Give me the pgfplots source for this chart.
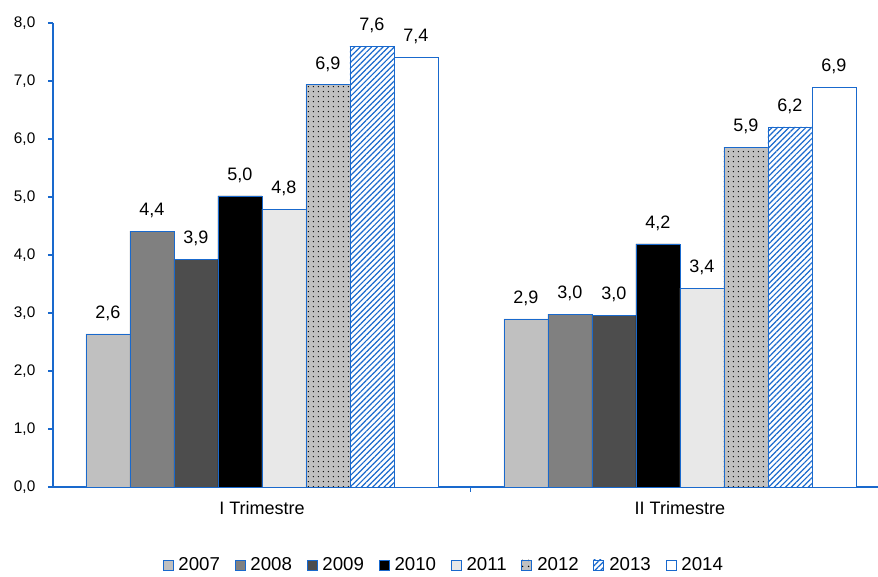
\documentclass[border=0pt]{standalone}
\usepackage{fontspec}
\setmainfont{Liberation Sans}
\usepackage{pgfplots}
\pgfplotsset{compat=1.18}
\usetikzlibrary{patterns,patterns.meta}
\definecolor{bblue}{RGB}{25,105,205}
\definecolor{c2007}{RGB}{192,192,192}
\definecolor{c2008}{RGB}{128,128,128}
\definecolor{c2009}{RGB}{77,77,77}
\definecolor{c2010}{RGB}{0,0,0}
\definecolor{c2011}{RGB}{232,232,232}
\definecolor{c2012}{RGB}{192,192,192}
\pgfplotsset{
  boxlegend/.style={legend image code/.code={\draw[##1] (0pt,-3.75pt) rectangle (7.5pt,3.75pt);}},
}
\begin{document}
\begin{tikzpicture}
\begin{axis}[
  at={(39.75pt,67.5pt)}, anchor=south west,
  scale only axis, width=618.75pt, height=348pt,
  xmin=-0.5, xmax=1.474, ymin=0, ymax=8,
  axis x line*=bottom, axis y line*=left,
  axis line style={bblue, line width=0.9pt},
  ybar=0pt, bar width=0.10526,
  ytick={0,1,...,8},
  yticklabel style={font=\fontsize{11.5}{13}\selectfont, xshift=-6pt, /pgf/number format/.cd, fixed, fixed zerofill, precision=1, use comma, assume math mode=true},
  tick align=outside, major tick length=3.75pt,
  tick style={bblue, line width=0.8pt},
  xtick={0.5}, xticklabels={},
  extra x ticks={0,1}, extra x tick labels={I Trimestre, II Trimestre},
  extra x tick style={major tick length=0pt, xticklabel style={font=\fontsize{13.5}{15}\selectfont, yshift=-7.5pt}},
  nodes near coords={\pgfmathprintnumber[fixed,fixed zerofill,precision=1,use comma,assume math mode=true]{\pgfplotspointmeta}},
  every node near coord/.append style={font=\fontsize{13.5}{15}\selectfont, text=black, anchor=base, yshift=11.5pt},
  legend columns=8,
  legend style={draw=none, fill=none, at={(0.474,-0.168)}, anchor=center, font=\fontsize{14}{16}\selectfont,
    nodes={inner xsep=2pt},
    /tikz/every odd column/.append style={column sep=2pt},
    /tikz/every even column/.append style={column sep=9pt}},
]
\addplot[boxlegend, fill=c2007, draw=bblue] coordinates {(0,2.64) (1,2.90)};
\addplot[boxlegend, fill=c2008, draw=bblue] coordinates {(0,4.41) (1,2.98)};
\addplot[boxlegend, fill=c2009, draw=bblue] coordinates {(0,3.93) (1,2.96)};
\addplot[boxlegend, fill=c2010, draw=bblue] coordinates {(0,5.02) (1,4.19)};
\addplot[boxlegend, fill=c2011, draw=bblue] coordinates {(0,4.79) (1,3.43)};
\addplot[boxlegend, fill=c2012, draw=bblue, postaction={pattern={Dots[distance=4pt, radius=0.6pt]}, pattern color=black}] coordinates {(0,6.94) (1,5.86)};
\addplot[boxlegend, fill=white, draw=bblue, postaction={pattern={Lines[angle=45, distance=3pt, line width=0.9pt]}, pattern color=bblue}] coordinates {(0,7.60) (1,6.21)};
\addplot[boxlegend, fill=white, draw=bblue] coordinates {(0,7.41) (1,6.90)};
\legend{2007,2008,2009,2010,2011,2012,2013,2014}
\end{axis}
\pgfresetboundingbox
\path[use as bounding box] (0pt,0pt) rectangle (658.5pt,432.75pt);
\end{tikzpicture}
\end{document}
